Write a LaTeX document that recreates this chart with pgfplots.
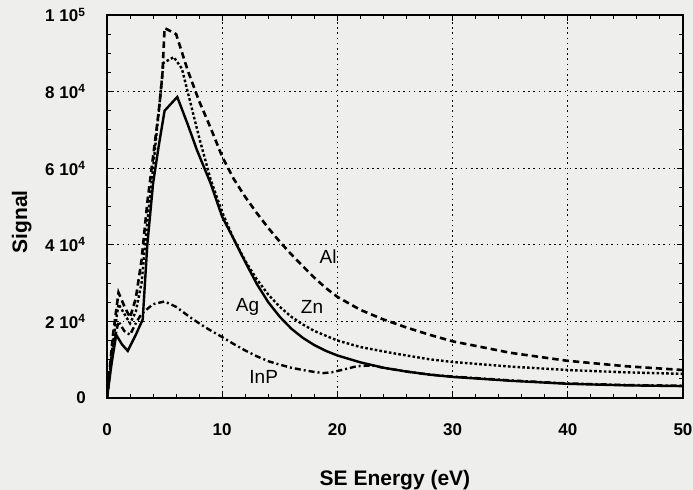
\documentclass[border=0pt]{standalone}
\usepackage{pgfplots}
\pgfplotsset{compat=1.18}
\usepackage{fontspec}
\setmainfont{Liberation Sans}
\definecolor{bg}{RGB}{238,238,236}

\begin{document}
\begin{tikzpicture}
\fill[bg] (-53.5pt,-46pt) rectangle (293pt,199pt);
\begin{axis}[
  scale only axis,
  width=288pt, height=191.5pt,
  xmin=0, xmax=50, ymin=0, ymax=100000,
  xtick={0,10,...,50}, minor x tick num=4,
  ytick={0,20000,40000,60000,80000,100000}, minor y tick num=3,
  yticklabels={0, 2 10\textsuperscript{4}, 4 10\textsuperscript{4}, 6 10\textsuperscript{4}, 8 10\textsuperscript{4}, 1 10\textsuperscript{5}},
  scaled y ticks=false,
  tick align=inside, ticks=both,
  major tick length=3pt, minor tick length=2pt,
  axis line style={line width=0.8pt},
  every tick/.style={black, line width=0.5pt},
  grid=major,
  major grid style={black, line width=0.45pt, dash pattern=on 0.8pt off 1.8pt},
  tick label style={font=\fontsize{8.5}{10}\selectfont\bfseries},
  /pgf/number format/assume math mode=true,
  xticklabel style={anchor=center, yshift=-16pt},
  yticklabel style={anchor=east, xshift=-7pt},
  xlabel={SE Energy (eV)},
  ylabel={Signal},
  label style={font=\fontsize{10.5}{12}\selectfont\bfseries},
  xlabel style={at={(axis description cs:0.5,-0.214)}, anchor=center},
  ylabel style={at={(axis description cs:-0.148,0.46)}, anchor=center, rotate=0},
  clip=true,
]
% Ag
\addplot[black, line width=1.2pt] coordinates {
  (0,0) (0.4,9000) (0.8,16500) (1.3,14000) (1.8,12300) (2.5,16500) (3.1,20500)
  (3.5,40000) (4,56000) (4.5,66000) (5,75000) (6.1,78600) (7,71500) (7.8,64800)
  (9,56000) (10,47300) (11,41500) (12,35500) (13,29800) (14,25000) (15,21200)
  (16,18100) (17,15700) (18,13800) (19,12300) (20,11100) (22,9300) (24,7900)
  (26,6900) (28,6100) (30,5500) (35,4500) (40,3700) (45,3300) (50,3100)
};
% Al
\addplot[black, line width=1.3pt, dash pattern=on 3.2pt off 2pt] coordinates {
  (0,0) (0.5,16000) (1,27500) (1.5,24000) (2,21000) (2.5,26000) (3,36000)
  (3.5,51000) (4,63000) (4.5,75000) (4.8,84000) (5.0,96600) (6,95000) (7,85600)
  (8,77500) (9,70500) (10,63000) (11,57200) (12,52500) (13,48300) (14,44400)
  (15,40800) (16,37500) (17,34400) (18,31400) (19,28700) (20,26400) (22,23000)
  (24,20500) (26,18400) (28,16500) (30,14800) (35,11800) (40,9700) (45,8300) (50,7300)
};
% Zn
\addplot[black, line width=1.2pt, dash pattern=on 1.3pt off 1.1pt] coordinates {
  (0,0) (0.5,14000) (1,24500) (1.5,22000) (2,19500) (2.5,22500) (3,30000)
  (3.5,46000) (4,60000) (4.5,75000) (4.9,87500) (5.8,89000) (6.5,86000) (7,80000)
  (8,68000) (9,57000) (10,48500) (11,41500) (12,35800) (13,31000) (14,27000)
  (15,23800) (16,21200) (17,19200) (18,17500) (20,15000) (22,13300) (25,11600)
  (28,10100) (30,9400) (35,8200) (40,7300) (45,6700) (50,6300)
};
% InP
\addplot[black, line width=1.2pt, dash pattern=on 3pt off 1.5pt on 1pt off 1.5pt] coordinates {
  (0,0) (0.5,13000) (1,20000) (1.5,17500) (2,16500) (2.5,19500) (3,22000)
  (4,24500) (5,25200) (6,23800) (7.2,21100) (8.5,18500) (10,15900) (11,14100)
  (12,12400) (13,10900) (14,9600) (15,8700) (16,7900) (17,7300) (18,6800)
  (18.8,6500) (19.5,6700) (20.5,7400) (21.7,8300) (23,8500) (24,7900)
  (26,6900) (28,6100) (30,5600) (35,4600) (40,3800) (45,3400) (50,3200)
};
\node[font=\fontsize{9.5}{11}\selectfont] at (axis cs:19.2,36800) {Al};
\node[font=\fontsize{9.5}{11}\selectfont] at (axis cs:12.2,23800) {Ag};
\node[font=\fontsize{9.5}{11}\selectfont] at (axis cs:17.8,23800) {Zn};
\node[font=\fontsize{9.5}{11}\selectfont] at (axis cs:13.6,5500) {InP};
\end{axis}
\pgfresetboundingbox
\path[use as bounding box] (-53.5pt,-46pt) rectangle (293pt,199pt);
\end{tikzpicture}
\end{document}
